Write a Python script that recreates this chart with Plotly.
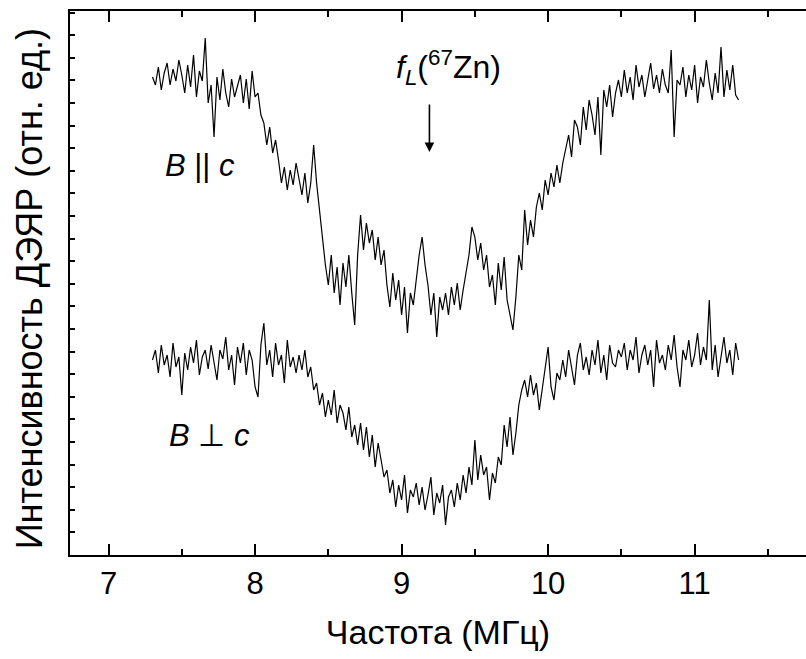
import plotly.graph_objects as go

freq = [
    7.30, 7.32, 7.34, 7.36, 7.38, 7.40, 7.42, 7.44, 7.46, 7.48,
    7.50, 7.52, 7.54, 7.56, 7.58, 7.60, 7.62, 7.64, 7.66, 7.68,
    7.70, 7.72, 7.74, 7.76, 7.78, 7.80, 7.82, 7.84, 7.86, 7.88,
    7.90, 7.92, 7.94, 7.96, 7.98, 8.00, 8.02, 8.04, 8.06, 8.08,
    8.10, 8.12, 8.14, 8.16, 8.18, 8.20, 8.22, 8.24, 8.26, 8.28,
    8.30, 8.32, 8.34, 8.36, 8.38, 8.40, 8.42, 8.44, 8.46, 8.48,
    8.50, 8.52, 8.54, 8.56, 8.58, 8.60, 8.62, 8.64, 8.66, 8.68,
    8.70, 8.72, 8.74, 8.76, 8.78, 8.80, 8.82, 8.84, 8.86, 8.88,
    8.90, 8.92, 8.94, 8.96, 8.98, 9.00, 9.02, 9.04, 9.06, 9.08,
    9.10, 9.12, 9.14, 9.16, 9.18, 9.20, 9.22, 9.24, 9.26, 9.28,
    9.30, 9.32, 9.34, 9.36, 9.38, 9.40, 9.42, 9.44, 9.46, 9.48,
    9.50, 9.52, 9.54, 9.56, 9.58, 9.60, 9.62, 9.64, 9.66, 9.68,
    9.70, 9.72, 9.74, 9.76, 9.78, 9.80, 9.82, 9.84, 9.86, 9.88,
    9.90, 9.92, 9.94, 9.96, 9.98, 10.00, 10.02, 10.04, 10.06, 10.08,
    10.10, 10.12, 10.14, 10.16, 10.18, 10.20, 10.22, 10.24, 10.26, 10.28,
    10.30, 10.32, 10.34, 10.36, 10.38, 10.40, 10.42, 10.44, 10.46, 10.48,
    10.50, 10.52, 10.54, 10.56, 10.58, 10.60, 10.62, 10.64, 10.66, 10.68,
    10.70, 10.72, 10.74, 10.76, 10.78, 10.80, 10.82, 10.84, 10.86, 10.88,
    10.90, 10.92, 10.94, 10.96, 10.98, 11.00, 11.02, 11.04, 11.06, 11.08,
    11.10, 11.12, 11.14, 11.16, 11.18, 11.20, 11.22, 11.24, 11.26, 11.28,
    11.30,
]

# B || c  (relative units)
signal_par = [
    478, 470, 488, 465, 482, 492, 470, 486, 474, 495,
    480, 462, 490, 468, 500, 458, 484, 474, 517, 452,
    470, 418, 478, 455, 486, 462, 448, 476, 458, 470,
    480, 452, 476, 446, 484, 458, 462, 440, 432, 410,
    428, 402, 415, 395, 372, 388, 365, 385, 370, 392,
    375, 360, 382, 352, 372, 410, 372, 345, 318, 290,
    270, 300, 262, 288, 250, 292, 268, 300, 262, 230,
    300, 340, 305, 332, 312, 325, 295, 318, 290, 305,
    270, 248, 282, 255, 275, 240, 268, 222, 262, 250,
    275, 300, 318, 290, 270, 240, 262, 218, 258, 245,
    262, 240, 268, 250, 272, 245, 265, 282, 300, 328,
    318, 295, 312, 285, 300, 268, 280, 250, 292, 265,
    298, 255, 240, 225, 258, 300, 285, 345, 310, 335,
    318, 348, 362, 345, 375, 360, 382, 368, 390, 372,
    392, 405, 420, 398, 435, 428, 410, 448, 425, 455,
    440, 420, 458, 400, 465, 448, 470, 438, 462, 475,
    458, 485, 462, 478, 455, 490, 468, 480, 458, 475,
    492, 466, 480, 462, 486, 470, 462, 505, 418, 475,
    470, 488, 458, 480, 465, 490, 452, 478, 468, 495,
    472, 455, 482, 462, 508, 458, 485, 465, 490, 460,
    455,
]

# B ⊥ c  (relative units)
signal_perp = [
    195, 205, 182, 210, 190, 200, 178, 212, 188, 198,
    160, 202, 185, 208, 192, 215, 180, 198, 205, 186,
    210, 190, 175, 205, 196, 218, 185, 200, 170, 208,
    192, 212, 180, 205, 195, 168, 158, 210, 232, 190,
    205, 178, 212, 190, 200, 172, 215, 188, 198, 182,
    200, 185, 205, 178, 188, 165, 172, 150, 162, 138,
    155, 140, 165, 132, 150, 142, 125, 148, 118, 130,
    110, 132, 105, 128, 98, 120, 88, 112, 95, 78,
    85, 62, 75, 48, 70, 55, 80, 42, 65, 58,
    72, 50, 68, 45, 60, 78, 40, 62, 52, 70,
    30, 58, 65, 48, 72, 55, 80, 62, 88, 70,
    115, 75, 100, 80, 88, 55, 82, 72, 98, 90,
    130, 108, 138, 100, 122, 150, 165, 175, 158, 180,
    160, 172, 145, 165, 185, 208, 168, 155, 182, 175,
    195, 178, 205, 188, 170, 200, 212, 185, 198, 180,
    205, 190, 215, 182, 200, 175, 210, 192, 188, 205,
    198, 212, 185, 205, 195, 218, 182, 200, 210, 190,
    205, 168, 215, 192, 200, 185, 210, 195, 220, 188,
    168, 205, 195, 215, 188, 200, 222, 190, 208, 195,
    255, 185, 210, 178, 200, 218, 192, 205, 180, 212,
    195,
]

x_tick_vals = [7, 8, 9, 10, 11]
x_tick_text = ["7", "8", "9", "10", "11"]
larmor_freq = 9.19

FONT = "Arial, Liberation Sans, sans-serif"

fig = go.Figure()
fig.add_trace(go.Scatter(x=freq, y=signal_par, mode="lines",
                         line=dict(color="black", width=1.2), showlegend=False))
fig.add_trace(go.Scatter(x=freq, y=signal_perp, mode="lines",
                         line=dict(color="black", width=1.2), showlegend=False))

fig.update_layout(
    width=806, height=659,
    margin=dict(l=70, r=0, t=11, b=104),
    plot_bgcolor="white", paper_bgcolor="white",
    font=dict(family=FONT, color="black", size=30),
    xaxis=dict(
        range=[6.737, 11.76], showgrid=False, zeroline=False,
        showline=True, linecolor="black", linewidth=2, mirror="ticks",
        tickmode="array", tickvals=x_tick_vals, ticktext=x_tick_text,
        ticks="inside", ticklen=11, tickwidth=2, tickcolor="black",
        tickfont=dict(size=31),
        minor=dict(ticks="inside", ticklen=6, tickwidth=2, tickcolor="black",
                   tick0=7.5, dtick=1, showgrid=False),
        title=dict(text="Частота (МГц)", font=dict(size=34), standoff=20),
    ),
    yaxis=dict(
        range=[0, 544], showgrid=False, zeroline=False,
        showline=True, linecolor="black", linewidth=2, mirror=False,
        tick0=0, dtick=22.6, ticks="inside", ticklen=5, tickwidth=1.5,
        tickcolor="black", showticklabels=False,
    ),
)

# y-axis title placed as rotated annotation
fig.add_annotation(xref="paper", yref="paper", x=-0.0545, y=0.49,
                   text="Интенсивность ДЭЯР (отн. ед.)", textangle=-90,
                   showarrow=False, font=dict(size=36),
                   xanchor="center", yanchor="middle")

fig.add_annotation(x=7.624, y=390, text="<i>B</i> || <i>c</i>", showarrow=False,
                   font=dict(size=31), xanchor="center", yanchor="middle")
fig.add_annotation(x=7.686, y=120, text="<i>B</i> ⊥ <i>c</i>", showarrow=False,
                   font=dict(size=31), xanchor="center", yanchor="middle")
fig.add_annotation(x=9.323, y=488, text="<i>f</i><sub><i>L</i></sub>(<sup>67</sup>Zn)",
                   showarrow=False, font=dict(size=32), xanchor="center", yanchor="middle")
fig.add_annotation(x=larmor_freq, y=403, ax=0, ay=-49, text="", showarrow=True,
                   arrowhead=2, arrowsize=1.2, arrowwidth=1.6, arrowcolor="black")

fig.write_html("out.html")
